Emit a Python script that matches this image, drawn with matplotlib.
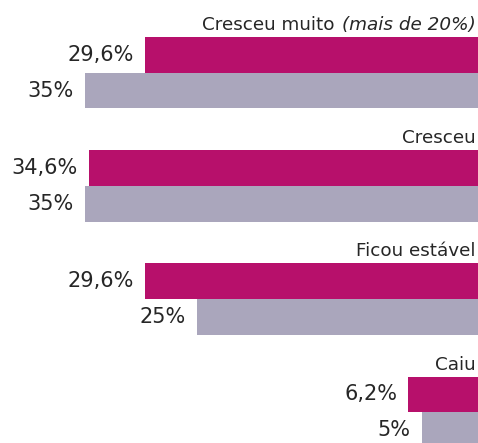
import matplotlib
matplotlib.use("Agg")
import matplotlib.pyplot as plt
from matplotlib.transforms import offset_copy

# data
categories = ["Cresceu muito", "Cresceu", "Ficou estável", "Caiu"]
notes = ["(mais de 20%)", "", "", ""]
series_a = [29.6, 34.6, 29.6, 6.2]   # magenta bars
series_b = [35, 35, 25, 5]           # grey bars
labels_a = ["29,6%", "34,6%", "29,6%", "6,2%"]
labels_b = ["35%", "35%", "25%", "5%"]

MAGENTA = "#B7106B"
GREY = "#AAA6BC"
TEXT = "#262626"

plt.rcParams['font.family'] = ['DejaVu Sans']

fig = plt.figure(figsize=(4.78, 4.43), dpi=100)
ax = fig.add_axes([0, 0, 1, 1])
ax.set_xlim(42.53, 0)
ax.set_ylim(11.37, -1.036)
ax.axis('off')

pitch = 3.17   # group spacing in bar heights
title_size = 13.2
for i, cat in enumerate(categories):
    ya = i * pitch + 0.5
    yb = i * pitch + 1.5
    ax.barh(ya, series_a[i], height=1.0, color=MAGENTA, linewidth=0)
    ax.barh(yb, series_b[i], height=1.0, color=GREY, linewidth=0)

    # value labels left of the bars (x axis runs right to left)
    lab_tr = offset_copy(ax.transData, fig=fig, x=-8, y=0, units='points')
    ax.text(series_a[i], ya, labels_a[i], transform=lab_tr, ha='right',
            va='center', fontsize=15, color=TEXT)
    ax.text(series_b[i], yb, labels_b[i], transform=lab_tr, ha='right',
            va='center', fontsize=15, color=TEXT)

    # category title above, right aligned
    tit_tr = offset_copy(ax.transData, fig=fig, x=-1.5, y=5, units='points')
    if notes[i]:
        t = ax.text(0, i * pitch, notes[i], transform=tit_tr, ha='right',
                    va='baseline', fontsize=title_size, color=TEXT, style='italic')
        fig.canvas.draw()
        w = t.get_window_extent().width * 72 / fig.dpi
        tr2 = offset_copy(ax.transData, fig=fig, x=-1.5 - w - 5.5, y=5, units='points')
        ax.text(0, i * pitch, cat, transform=tr2, ha='right',
                va='baseline', fontsize=title_size, color=TEXT)
    else:
        ax.text(0, i * pitch, cat, transform=tit_tr, ha='right',
                va='baseline', fontsize=title_size, color=TEXT)

fig.savefig("out.png", dpi=100)
